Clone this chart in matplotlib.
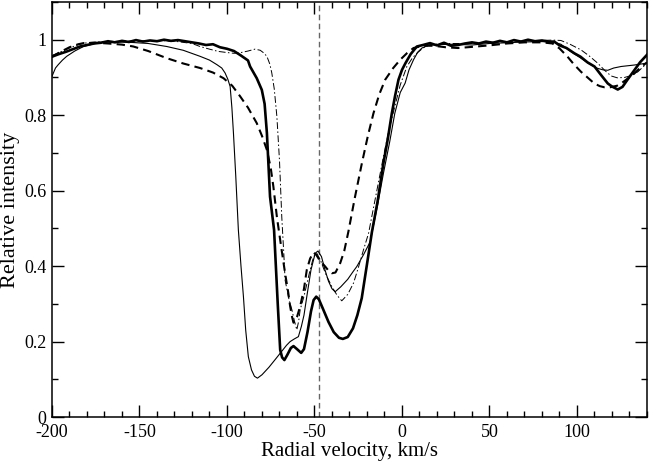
import matplotlib
matplotlib.use('Agg')
import matplotlib.pyplot as plt
from matplotlib.ticker import MultipleLocator

plt.rcParams['font.family'] = ['Liberation Serif', 'DejaVu Serif']
plt.rcParams['axes.unicode_minus'] = False

# observed profile (thick, noisy)
obs_v = [-200, -196, -192, -188, -184, -180, -176, -172, -168, -164, -160, -156, -152, -148,
         -144, -140, -136, -132, -128, -124, -120, -116, -112, -108, -104, -100, -96, -92,
         -88, -86.8, -83, -80.1, -78.5, -77.2, -75.4, -73.1, -71, -69.6, -68.5, -67.2, -65.5,
         -63.5, -62, -60, -57.6, -56, -54, -52, -50.5, -49, -47.5, -45, -42, -39, -36, -33.8,
         -31, -28, -25.5, -23, -20, -17.2, -14, -10.6, -8, -5.8, -4, -2, 0, 2, 5, 8.5, 12, 16,
         20, 24, 28, 32, 36, 40, 44, 48, 52, 56, 60, 64, 68, 72, 76, 80, 84, 87, 90, 94, 98.5,
         102, 106, 110, 114, 117.6, 120, 123.3, 126, 129, 132.9, 136, 140]
obs_i = [0.955, 0.962, 0.968, 0.975, 0.982, 0.986, 0.990, 0.992, 0.996, 0.993, 0.997, 0.994,
         0.999, 0.995, 0.998, 0.996, 1.000, 0.997, 0.999, 0.996, 0.993, 0.990, 0.986, 0.988,
         0.980, 0.976, 0.970, 0.958, 0.945, 0.929, 0.898, 0.867, 0.83, 0.753, 0.584, 0.496,
         0.30, 0.178, 0.158, 0.151, 0.165, 0.183, 0.188, 0.180, 0.170, 0.180, 0.225, 0.280,
         0.310, 0.319, 0.312, 0.285, 0.252, 0.225, 0.210, 0.207, 0.212, 0.235, 0.270, 0.315,
         0.405, 0.490, 0.570, 0.673, 0.740, 0.805, 0.850, 0.894, 0.920, 0.938, 0.962, 0.982,
         0.986, 0.991, 0.985, 0.992, 0.984, 0.986, 0.990, 0.993, 0.990, 0.995, 0.992, 0.997,
         0.993, 0.999, 0.995, 1.000, 0.996, 0.998, 0.995, 0.995, 0.985, 0.978, 0.964, 0.955,
         0.940, 0.929, 0.905, 0.884, 0.876, 0.868, 0.875, 0.895, 0.920, 0.940, 0.960]

# model 1 (thin solid)
m1_v = [-200, -198, -196.4, -194, -191.6, -187, -182, -177, -172.6, -165, -155, -145, -134.4,
        -125, -115.4, -110, -105.8, -103, -101.1, -99.5, -98.2, -97.2, -96.3, -95, -93.5, -92,
        -90.6, -89.3, -87.8, -86, -84.3, -82.6, -80, -76, -72, -69.6, -66, -63.9, -61.5, -59.2,
        -57.5, -56, -54.4, -52, -49.6, -48, -46, -44, -42, -40, -38.2, -35, -31, -28, -25.8,
        -22, -18.2, -14, -10.6, -7, -4.1, -1, 1.8, 4, 6.6, 9, 11.4, 15, 20, 30, 40, 50, 60,
        70, 80, 86, 90.8, 96, 102.3, 107, 111.8, 115, 117.6, 121, 125.2, 132.9, 140]
m1_i = [0.903, 0.925, 0.934, 0.946, 0.956, 0.970, 0.982, 0.988, 0.993, 0.994, 0.993, 0.990,
        0.982, 0.972, 0.956, 0.946, 0.934, 0.925, 0.912, 0.895, 0.876, 0.82, 0.752, 0.64,
        0.496, 0.40, 0.319, 0.23, 0.16, 0.125, 0.108, 0.103, 0.112, 0.132, 0.155, 0.169,
        0.19, 0.20, 0.207, 0.213, 0.24, 0.27, 0.319, 0.39, 0.434, 0.44, 0.425, 0.39, 0.36,
        0.34, 0.332, 0.345, 0.365, 0.385, 0.399, 0.43, 0.464, 0.56, 0.646, 0.73, 0.805, 0.86,
        0.885, 0.92, 0.947, 0.967, 0.978, 0.985, 0.987, 0.988, 0.986, 0.99, 0.992, 0.994,
        0.995, 0.994, 0.988, 0.97, 0.951, 0.936, 0.924, 0.92, 0.919, 0.925, 0.929, 0.933, 0.938]

# model 2 (dashed)
m2_v = [-200, -195, -190, -185, -182, -175, -168, -160, -153.5, -145, -134.4, -125, -115.4,
        -108, -102, -97, -92.5, -88, -83, -80, -77.2, -75, -73.5, -71.5, -69, -66.8, -65,
        -63.9, -62.8, -62, -61, -60, -58.2, -56, -54.4, -52.5, -50.6, -49, -47, -43.9, -42,
        -40.1, -38, -35.3, -33, -30.6, -27, -22.9, -19.5, -16.3, -13, -9.6, -5, -1, 3, 6.6,
        12, 18, 25, 32, 40, 50, 60, 70, 80, 86, 90, 94.6, 98, 102.3, 106, 109.9, 113, 115.6,
        119, 122.9, 125.2, 129, 132.9, 136, 140]
m2_i = [0.955, 0.968, 0.980, 0.988, 0.991, 0.992, 0.990, 0.987, 0.982, 0.970, 0.951, 0.937,
        0.925, 0.913, 0.898, 0.878, 0.850, 0.820, 0.779, 0.745, 0.708, 0.660, 0.611, 0.531,
        0.450, 0.381, 0.330, 0.293, 0.265, 0.250, 0.255, 0.265, 0.293, 0.340, 0.390, 0.420,
        0.436, 0.430, 0.415, 0.399, 0.388, 0.381, 0.383, 0.408, 0.440, 0.492, 0.580, 0.673,
        0.745, 0.805, 0.855, 0.894, 0.925, 0.947, 0.965, 0.978, 0.984, 0.984, 0.980, 0.978,
        0.981, 0.985, 0.990, 0.993, 0.993, 0.990, 0.977, 0.955, 0.936, 0.915, 0.900, 0.884,
        0.877, 0.874, 0.874, 0.878, 0.884, 0.897, 0.911, 0.925, 0.940]

# model 3 (dash-dot)
m3_v = [-200, -195, -190, -185, -180, -172, -160, -150, -140, -130, -120, -115.4, -110, -105,
        -100, -96, -92, -88, -84, -81, -79, -77.2, -75.5, -74.4, -73, -71.5, -70, -68.7, -67.5,
        -66.8, -64.5, -62.9, -61.5, -60.1, -59, -58.2, -56, -54, -52.5, -50.5, -48.7, -46.5,
        -44.5, -42.9, -40, -37, -34.4, -31, -27.7, -25, -22, -19.1, -15, -10.6, -7.5, -4.1,
        -1, 2.8, 6, 8.5, 12, 16, 25, 40, 50, 60, 70, 80, 86, 90.8, 96, 102.3, 107, 111.8, 116,
        119.5, 123, 127.2, 131, 134.8, 140]
m3_i = [0.958, 0.968, 0.978, 0.987, 0.992, 0.995, 0.996, 0.997, 0.998, 0.996, 0.990, 0.982,
        0.975, 0.969, 0.966, 0.964, 0.966, 0.970, 0.975, 0.972, 0.965, 0.956, 0.935, 0.912,
        0.870, 0.797, 0.680, 0.531, 0.430, 0.363, 0.310, 0.284, 0.255, 0.231, 0.255, 0.284,
        0.320, 0.360, 0.390, 0.425, 0.434, 0.415, 0.390, 0.372, 0.345, 0.322, 0.308, 0.325,
        0.355, 0.395, 0.443, 0.487, 0.585, 0.690, 0.760, 0.823, 0.880, 0.929, 0.952, 0.964,
        0.978, 0.987, 0.990, 0.990, 0.993, 0.995, 0.997, 0.998, 0.999, 0.998, 0.988, 0.973,
        0.957, 0.938, 0.918, 0.904, 0.899, 0.900, 0.905, 0.915, 0.938]

v_mark = -47.3

fig = plt.figure(figsize=(6.49, 4.61), dpi=100)
ax = fig.add_axes([0.0801, 0.0954, 0.9168, 0.9003])

ax.axvline(v_mark, color='#666666', lw=1.0, dashes=(4, 2.5), zorder=1)
ax.plot(m1_v, m1_i, color='black', lw=0.8)
ax.plot(m2_v, m2_i, color='black', lw=1.5, dashes=(4, 2.5))
ax.plot(m3_v, m3_i, color='black', lw=0.7, dashes=(7, 2.5, 1.5, 2.5))
ax.plot(obs_v, obs_i, color='black', lw=1.9)

ax.set_xlim(-200, 140)
ax.set_ylim(0, 1.1)
ax.xaxis.set_major_locator(MultipleLocator(50))
ax.xaxis.set_minor_locator(MultipleLocator(10))
ax.yaxis.set_major_locator(MultipleLocator(0.2))
ax.yaxis.set_minor_locator(MultipleLocator(0.1))
ax.set_yticks([0, 0.2, 0.4, 0.6, 0.8, 1.0])
ax.set_yticklabels(['0', '0.2', '0.4', '0.6', '0.8', '1'])

ax.tick_params(which='both', direction='in', top=True, right=True, width=1.0)
ax.tick_params(which='major', length=8.5, labelsize=13, pad=4)
ax.tick_params(axis='x', which='major', pad=5)
ax.tick_params(which='minor', length=4)
for sp in ax.spines.values():
    sp.set_linewidth(1.1)

ax.set_xlabel('Radial velocity, km/s', fontsize=15, labelpad=0.5)
ax.set_ylabel('Relative intensity', fontsize=16, labelpad=3)

fig.savefig('out.png', dpi=100)
